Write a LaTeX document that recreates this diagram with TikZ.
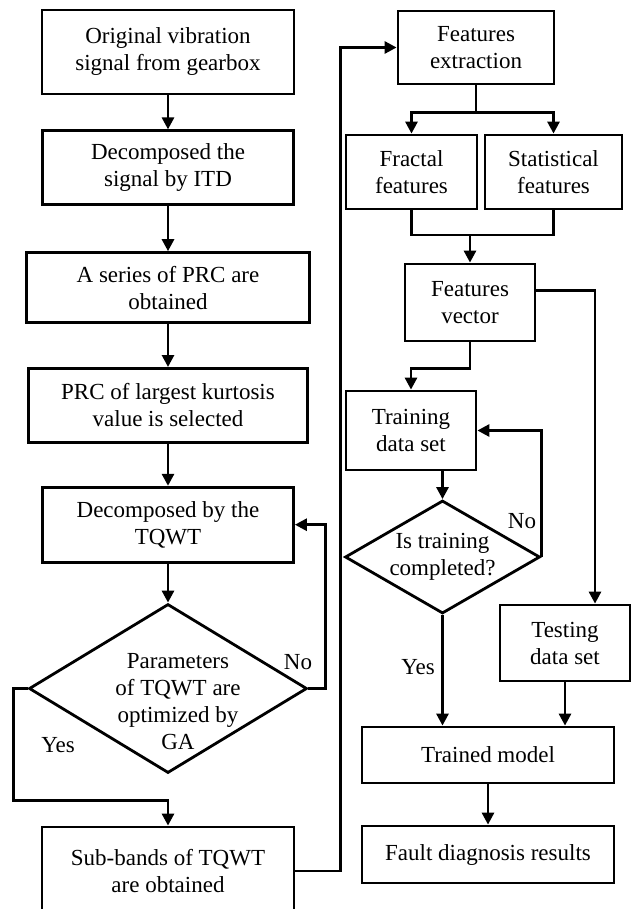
\documentclass[tikz,border=0pt]{standalone}
\usepackage{fontspec}
\setmainfont{Liberation Serif}
\usetikzlibrary{chains}
\usetikzlibrary{positioning}
\usetikzlibrary{shapes.geometric}
\usetikzlibrary{arrows.meta}

\begin{document}
\begin{tikzpicture}[
	x=0.5pt,y=-0.5pt,
	font=\fontsize{11.5}{13.5}\selectfont,
	line width=1.4pt,
	start chain=going below,
	node distance=22pt,
	box/.style={
		draw,
		align=center,
		inner sep=2pt,
	},
	cbox/.style={box,on chain,join},
	decision/.style={draw,diamond,inner sep=0pt},
	every join/.style={-{Triangle[length=6pt,width=6pt]}},
	arr/.style={-{Triangle[length=6pt,width=6pt]}},
]
\useasboundingbox (0,0) rectangle (631,909);
% left column
\node [cbox,at={(168,52)},minimum width=126pt,minimum height=42pt] (orig) {
	Original vibration\\signal from gearbox
};
\node [node distance=17pt,cbox,minimum width=125.5pt,minimum height=37pt] (itd) {
	Decomposed the\\signal by ITD
};
\node [node distance=22.5pt,cbox,minimum width=141.5pt,minimum height=35pt] (prc) {
	A series of PRC are\\obtained
};
\node [node distance=21.5pt,cbox,minimum width=139.5pt,minimum height=37pt] (kurt) {
	PRC of largest kurtosis\\value is selected
};
\node [node distance=21pt,cbox,minimum width=125.5pt,minimum height=37.5pt] (tqwt) {
	Decomposed by the\\TQWT
};
\node [node distance=19.5pt,decision,on chain,join,minimum width=139pt,minimum height=84.5pt,
	label={[align=center,xshift=5pt,yshift=-6.5pt]center:Parameters\\of TQWT are\\optimized by\\GA}] (ga) {};
\node [box,minimum width=126pt,minimum height=44pt] at (168,871) (sub) {
	Sub-bands of TQWT\\are obtained
};
\node at (298,662) (no1) {No};
\node at (58,745) (yes1) {Yes};
% right column
\node [box,minimum width=78pt,minimum height=36.5pt] at (476,47.5) (fext) {
	Features\\extraction
};
\node [box,minimum width=65.5pt,minimum height=37pt] at (411.5,172) (frac) {
	Fractal\\features
};
\node [box,minimum width=68.5pt,minimum height=37pt] at (553.5,172) (stat) {
	Statistical\\features
};
\node [box,minimum width=65pt,minimum height=38.5pt] at (470,302.5) (fvec) {
	Features\\vector
};
\node [box,minimum width=65pt,minimum height=39.5pt] at (411,430.5) (train) {
	Training\\data set
};
\node [decision,minimum width=97.5pt,minimum height=56.5pt,
	label={[align=center]center:Is training\\completed?}] at (442.5,557) (done) {};
\node [box,minimum width=65pt,minimum height=38pt] at (565,643) (test) {
	Testing\\data set
};
\node [box,minimum width=126pt,minimum height=28pt] at (488,755) (model) {Trained model};
\node [box,minimum width=126pt,minimum height=28.5pt] at (488,854.5) (fault) {Fault diagnosis results};
\node at (522,521) (no2) {No};
\node at (418,667) (yes2) {Yes};
\coordinate (merge) at (470,235);
% connectors
\draw [arr] (ga.east) -- ++(17,0) |- (tqwt.east);
\draw [arr] (ga.west) -- ++(-14,0) -- ++(0,112) -| (sub.north);
\draw [arr] (sub.east) -- ++(45,0) |- (fext.west);
\draw [arr] (fext.south) -- ++(0,27) -| (frac.north);
\draw [arr] (fext.south) -- ++(0,27) -| (stat.north);
\draw (frac.south) |- (merge) -| (stat.south);
\draw [arr] (merge) -- (fvec.north);
\draw [arr] (fvec.south) -- ++(0,26) -| (train.north);
\draw [arr] ([yshift=6pt]fvec.east) -| ([xshift=15pt]test.north);
\draw [arr] (train.south -| done.north) -- (done.north);
\draw [arr] (done.east) |- (train.east);
\draw [arr] (done.south) -- (done.south |- model.north);
\draw [arr] (test.south) -- (test.south |- model.north);
\draw [arr] (model) -- (fault);
\end{tikzpicture}
\end{document}
